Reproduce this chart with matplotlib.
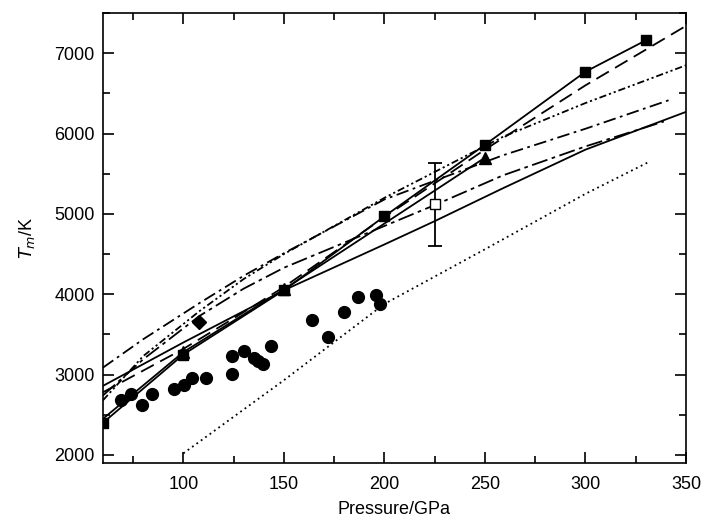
import matplotlib
matplotlib.use("Agg")
import matplotlib.pyplot as plt
from matplotlib.ticker import MultipleLocator

plt.rcParams['font.family'] = ['Liberation Sans', 'DejaVu Sans']

# squares (solid line)
sq_p = [60, 100, 150, 200, 250, 300, 330]
sq_t = [2400, 3250, 4050, 4970, 5860, 6770, 7160]
# triangles (solid line, runs just above the squares at low pressure)
tri_p = [60, 100, 150, 250]
tri_t = [2450, 3280, 4060, 5700]
tri_marked = [100, 150, 250]
tri_marked_t = [3280, 4060, 5700]

# dashed
dash_p = [60, 80, 100, 125, 150, 200, 250, 300, 350]
dash_t = [2780, 3050, 3320, 3700, 4090, 4960, 5800, 6600, 7340]
# dash-dot-dot
ddd_p = [60, 80, 108, 130, 150, 200, 259, 300, 350]
ddd_t = [2680, 3230, 3790, 4190, 4500, 5200, 5960, 6380, 6850]
# long dash-dot (upper)
dd1_p = [60, 80, 108, 130, 150, 200, 259, 300, 342]
dd1_t = [3087, 3440, 3890, 4230, 4510, 5180, 5730, 6060, 6420]
# dash-dot (lower)
dd2_p = [60, 80, 108, 130, 150, 200, 225, 259, 300, 339]
dd2_t = [2740, 3190, 3730, 4070, 4330, 4850, 5110, 5480, 5840, 6150]
# solid curve
sol_p = [60, 100, 150, 200, 225, 259, 300, 350]
sol_t = [2860, 3400, 4050, 4620, 4910, 5320, 5800, 6270]
# dotted
dot_p = [100, 150, 200, 250, 300, 331]
dot_t = [2020, 2930, 3880, 4560, 5250, 5640]

# single points
open_p, open_t, open_err = 225, 5120, 520
dia_p, dia_t = 108, 3660

circ_p = [69, 74, 79.3, 84.3, 95.3, 100.2, 104.5, 111.5, 124, 124, 130, 135,
          137, 139.5, 143.5, 164, 172, 180, 186.7, 196, 198]
circ_t = [2689, 2763, 2626, 2763, 2822, 2875, 2959, 2959, 3009, 3228, 3290,
          3208, 3166, 3137, 3352, 3685, 3469, 3781, 3968, 3996, 3884]

fig = plt.figure(figsize=(7.05, 5.22), dpi=100)
ax = fig.add_axes([0.146, 0.113, 0.827, 0.862])

lw = 1.3
ax.plot(sq_p, sq_t, '-', color='black', lw=lw, marker='s', ms=7)
ax.plot(tri_p, tri_t, '-', color='black', lw=lw)
ax.plot(tri_marked, tri_marked_t, '^', color='black', ms=9)
ax.plot(dash_p, dash_t, color='black', lw=lw, dashes=(8, 4))
ax.plot(ddd_p, ddd_t, color='black', lw=lw, dashes=(4, 1.6, 1.2, 1.6, 1.2, 1.6))
ax.plot(dd1_p, dd1_t, color='black', lw=lw, dashes=(7, 2.5, 1.5, 2.5))
ax.plot(dd2_p, dd2_t, color='black', lw=lw, dashes=(9, 2.5, 2, 2.5))
ax.plot(sol_p, sol_t, '-', color='black', lw=lw)
ax.plot(dot_p, dot_t, color='black', lw=lw, dashes=(1, 2))

ax.plot(circ_p, circ_t, 'o', color='black', ms=8.5, ls='none')
ax.plot([dia_p], [dia_t], 'D', color='black', ms=7)
ax.errorbar([open_p], [open_t], yerr=[[open_err], [open_err]], fmt='s',
            mfc='white', mec='black', ecolor='black', ms=7, capsize=5,
            elinewidth=1.3, capthick=1.3, zorder=5)

ax.set_xlim(60, 350)
ax.set_ylim(1900, 7500)
ax.xaxis.set_major_locator(MultipleLocator(50))
ax.xaxis.set_minor_locator(MultipleLocator(25))
ax.yaxis.set_major_locator(MultipleLocator(1000))
ax.yaxis.set_minor_locator(MultipleLocator(500))
ax.tick_params(which='both', direction='in', top=True, right=True,
               labelsize=13, width=1.2)
ax.tick_params(which='major', length=8)
ax.tick_params(which='minor', length=5)
ax.tick_params(axis='x', pad=9)
ax.tick_params(axis='y', pad=6)
for s in ax.spines.values():
    s.set_linewidth(1.2)

ax.set_xlabel('Pressure/GPa', fontsize=13, labelpad=6)
ax.set_ylabel(r'$T_m$/K', fontsize=13, labelpad=12)

fig.savefig('out.png', dpi=100)
